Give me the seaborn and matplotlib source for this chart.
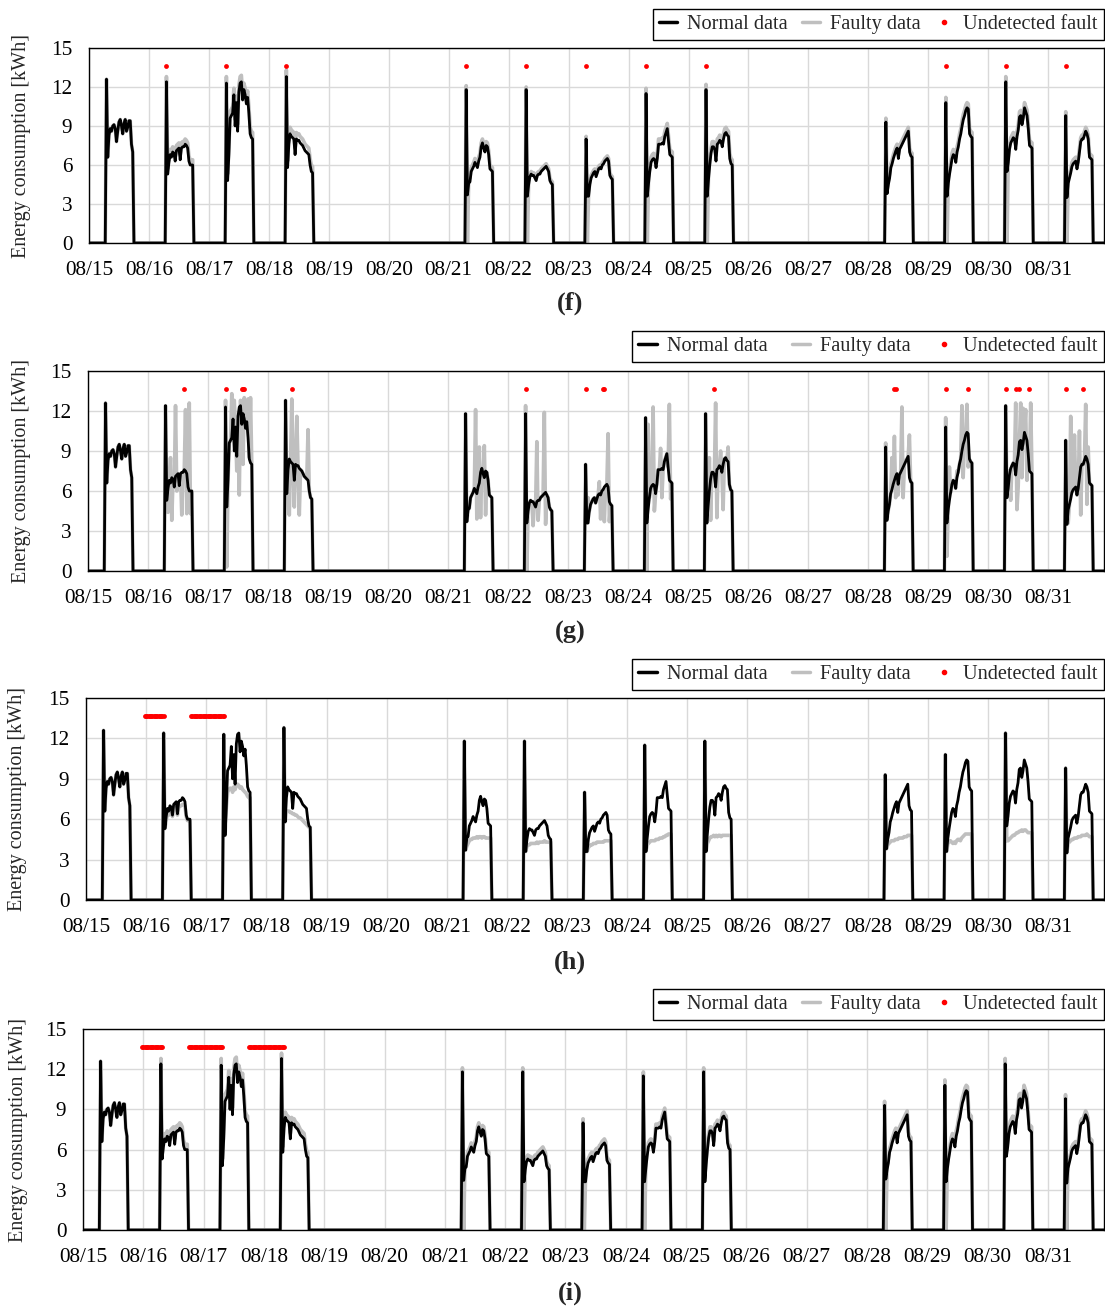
import numpy as np
import pandas as pd
import matplotlib
matplotlib.use("Agg")
import matplotlib.pyplot as plt
import seaborn as sns
from matplotlib.lines import Line2D

# ---------------- data ----------------
date_labels = ['08/15', '08/16', '08/17', '08/18', '08/19', '08/20', '08/21', '08/22',
               '08/23', '08/24', '08/25', '08/26', '08/27', '08/28', '08/29', '08/30', '08/31']
y_ticks = [0, 3, 6, 9, 12, 15]

# normal half-hour profiles, 07:00 .. 17:30, kWh
normal_0815 = [12.6, 6.6, 8.3, 8.8, 8.6, 9.0, 9.1, 8.8, 7.8, 8.6, 9.3, 9.5, 9.0, 8.4, 9.2, 9.5, 8.6, 8.9, 9.4, 9.4, 7.6, 7.0]
normal_0816 = [12.4, 5.3, 6.2, 6.8, 6.6, 7.0, 6.9, 6.3, 7.1, 7.2, 7.3, 6.4, 7.3, 7.4, 7.4, 7.6, 7.5, 7.3, 6.3, 6.0, 6.0, 6.0]
normal_0817 = [12.3, 4.8, 6.8, 9.6, 9.8, 10.0, 11.4, 9.0, 10.8, 8.6, 11.6, 12.3, 12.4, 11.0, 11.8, 11.4, 10.7, 11.2, 10.0, 8.4, 8.1, 8.0]
normal_0818 = [12.8, 5.8, 7.6, 8.4, 8.2, 8.1, 8.0, 6.8, 8.0, 7.9, 7.9, 7.7, 7.6, 7.5, 7.3, 7.1, 7.0, 6.9, 6.8, 6.0, 5.5, 5.4]
normal_0821 = [11.8, 3.7, 4.6, 4.7, 5.5, 5.7, 5.9, 6.2, 6.0, 5.8, 6.3, 6.6, 7.4, 7.7, 7.3, 7.0, 7.5, 7.4, 6.8, 5.7, 5.6, 5.5]
normal_0822 = [11.8, 3.6, 4.5, 5.1, 5.3, 5.2, 5.2, 5.0, 4.8, 5.2, 5.3, 5.3, 5.5, 5.6, 5.7, 5.8, 5.9, 5.7, 5.5, 4.8, 4.6, 4.5]
normal_0823 = [8.0, 3.6, 3.6, 4.5, 5.0, 5.2, 5.4, 5.5, 5.1, 5.4, 5.7, 5.8, 5.7, 6.0, 6.1, 6.3, 6.4, 6.5, 6.3, 5.2, 5.0, 4.9]
normal_0824 = [11.5, 3.6, 4.6, 5.5, 6.2, 6.4, 6.5, 6.4, 5.8, 6.5, 7.6, 7.6, 7.6, 7.7, 7.6, 8.2, 8.5, 8.8, 7.8, 6.8, 6.7, 6.6]
normal_0825 = [11.8, 3.6, 4.9, 6.0, 6.9, 7.4, 7.4, 7.2, 6.3, 7.6, 7.7, 7.9, 7.8, 7.4, 8.0, 8.4, 8.5, 8.3, 8.2, 6.5, 6.1, 6.0]
normal_0828 = [9.3, 3.8, 4.5, 5.0, 5.8, 6.1, 6.5, 6.8, 7.1, 7.3, 6.5, 7.2, 7.4, 7.6, 7.8, 8.0, 8.2, 8.4, 8.6, 7.0, 6.7, 6.6]
normal_0829 = [10.8, 3.6, 4.6, 5.3, 5.9, 6.5, 6.8, 6.7, 6.2, 7.0, 7.4, 8.0, 8.4, 9.0, 9.5, 9.8, 10.2, 10.4, 10.3, 8.4, 8.2, 8.1]
normal_0830 = [12.4, 5.5, 6.2, 7.2, 7.7, 7.9, 8.1, 8.0, 7.2, 8.2, 8.7, 9.7, 9.8, 9.1, 9.6, 10.4, 10.1, 9.8, 8.8, 7.5, 7.4, 7.3]
normal_0831 = [9.8, 3.5, 4.6, 5.0, 5.4, 5.9, 6.1, 6.2, 6.3, 5.7, 6.2, 7.0, 7.8, 8.0, 8.0, 8.3, 8.6, 8.4, 8.0, 6.6, 6.5, 6.4]

work_days = ['08/15', '08/16', '08/17', '08/18', '08/21', '08/22', '08/23',
             '08/24', '08/25', '08/28', '08/29', '08/30', '08/31']
normal_profiles = [normal_0815, normal_0816, normal_0817, normal_0818, normal_0821, normal_0822,
                   normal_0823, normal_0824, normal_0825, normal_0828, normal_0829, normal_0830, normal_0831]

# (f) faulty data: per-day offset above normal, days where faulty drops to 0 after start
f_offset = [0.0, 0.4, 0.5, 0.5, 0.3, 0.2, 0.2, 0.4, 0.4, 0.3, 0.4, 0.4, 0.3]
f_dip_days = ['08/21', '08/22', '08/23', '08/24', '08/25', '08/29', '08/30', '08/31']
f_fault_days = ['08/16', '08/17', '08/18', '08/21', '08/22', '08/23', '08/24', '08/25',
                '08/29', '08/30', '08/31']

# (g) faulty data: outlier spikes (day, half-hour slot, value)
g_spikes = [
    ('08/16', 1, 4.5), ('08/16', 2, 4.4), ('08/16', 4, 8.5), ('08/16', 5, 3.8), ('08/16', 8, 12.4),
    ('08/16', 9, 6.0), ('08/16', 13, 4.2), ('08/16', 16, 12.1), ('08/16', 17, 4.3), ('08/16', 19, 12.6),
    ('08/16', 20, 4.3),
    ('08/17', 0, 12.8), ('08/17', 1, 0.3), ('08/17', 5, 13.3), ('08/17', 7, 12.8), ('08/17', 9, 7.5),
    ('08/17', 11, 5.7), ('08/17', 12, 12.8), ('08/17', 14, 8.0), ('08/17', 15, 13.0), ('08/17', 18, 12.9),
    ('08/17', 19, 8.5), ('08/17', 20, 13.0),
    ('08/18', 3, 4.2), ('08/18', 5, 12.9), ('08/18', 7, 4.8), ('08/18', 9, 11.6), ('08/18', 11, 4.2),
    ('08/18', 18, 10.6),
    ('08/21', 8, 12.1), ('08/21', 9, 3.9), ('08/21', 11, 9.3), ('08/21', 12, 4.0), ('08/21', 15, 9.4),
    ('08/21', 16, 4.2),
    ('08/22', 0, 12.4), ('08/22', 1, 0.0), ('08/22', 6, 3.4), ('08/22', 9, 9.7), ('08/22', 10, 3.8),
    ('08/22', 15, 11.9), ('08/22', 16, 3.5),
    ('08/23', 2, 5.5), ('08/23', 11, 6.7), ('08/23', 12, 3.9), ('08/23', 15, 3.7), ('08/23', 18, 10.3),
    ('08/23', 19, 3.7),
    ('08/24', 1, 0.0), ('08/24', 2, 11.0), ('08/24', 6, 12.3), ('08/24', 7, 4.5), ('08/24', 12, 9.2),
    ('08/24', 13, 5.5), ('08/24', 19, 12.5), ('08/24', 20, 5.4),
    ('08/25', 3, 8.5), ('08/25', 4, 3.8), ('08/25', 8, 12.6), ('08/25', 9, 4.0), ('08/25', 12, 9.0),
    ('08/25', 14, 4.6), ('08/25', 18, 9.3),
    ('08/28', 0, 9.6), ('08/28', 5, 8.5), ('08/28', 7, 10.1), ('08/28', 8, 5.5), ('08/28', 10, 5.7),
    ('08/28', 13, 12.3), ('08/28', 14, 5.5), ('08/28', 16, 8.3), ('08/28', 19, 10.2),
    ('08/29', 0, 11.5), ('08/29', 1, 1.1), ('08/29', 3, 7.8), ('08/29', 9, 7.5), ('08/29', 13, 12.4),
    ('08/29', 14, 7.0), ('08/29', 17, 12.5), ('08/29', 18, 7.8),
    ('08/30', 2, 7.5), ('08/30', 4, 5.3), ('08/30', 8, 12.6), ('08/30', 9, 4.6), ('08/30', 10, 6.3),
    ('08/30', 12, 12.6), ('08/30', 13, 7.0), ('08/30', 14, 12.2), ('08/30', 16, 12.1), ('08/30', 17, 6.8),
    ('08/30', 20, 12.6), ('08/30', 21, 7.5),
    ('08/31', 2, 3.6), ('08/31', 4, 11.6), ('08/31', 7, 10.2), ('08/31', 11, 10.5), ('08/31', 12, 4.2),
    ('08/31', 16, 12.5), ('08/31', 17, 5.0), ('08/31', 18, 9.3),
]
g_fault_points = [('08/16', 15), ('08/17', 0), ('08/17', 13), ('08/17', 14), ('08/17', 15), ('08/18', 5),
                  ('08/22', 0), ('08/23', 0), ('08/23', 14), ('08/23', 15), ('08/25', 7), ('08/28', 7),
                  ('08/28', 8), ('08/29', 0), ('08/29', 18), ('08/30', 0), ('08/30', 8), ('08/30', 11),
                  ('08/30', 19), ('08/31', 0), ('08/31', 14)]

# (h) faulty data: explicit profiles where they differ from normal
h_faulty_0816 = [12.4, 5.3, 5.9, 6.4, 6.3, 6.6, 6.6, 6.2, 6.7, 6.8, 6.9, 6.3, 6.9, 7.0, 7.0, 7.1, 7.1, 7.0, 6.2, 5.9, 5.9, 5.9]
h_faulty_0817 = [12.3, 4.8, 6.8, 8.0, 8.2, 8.3, 8.3, 8.0, 8.4, 8.2, 8.5, 8.6, 8.5, 8.3, 8.4, 8.2, 8.1, 8.0, 7.9, 7.7, 7.6, 7.6]
h_faulty_0818 = [12.8, 5.8, 6.6, 6.6, 6.6, 6.5, 6.5, 6.4, 6.4, 6.3, 6.3, 6.2, 6.1, 6.1, 6.0, 5.9, 5.8, 5.7, 5.6, 5.5, 5.4, 5.4]
h_faulty_0821 = [11.8, 3.7, 4.0, 4.2, 4.4, 4.5, 4.5, 4.6, 4.6, 4.6, 4.7, 4.6, 4.7, 4.7, 4.6, 4.7, 4.7, 4.6, 4.6, 4.6, 4.6, 4.6]
h_faulty_0822 = [11.8, 3.6, 4.0, 4.1, 4.1, 4.2, 4.2, 4.2, 4.2, 4.2, 4.3, 4.2, 4.3, 4.3, 4.3, 4.3, 4.4, 4.3, 4.3, 4.3, 4.3, 4.3]
h_faulty_0823 = [8.0, 3.6, 3.6, 3.9, 4.0, 4.1, 4.1, 4.2, 4.2, 4.2, 4.3, 4.3, 4.3, 4.3, 4.3, 4.3, 4.4, 4.4, 4.4, 4.4, 4.4, 4.4]
h_faulty_0824 = [11.5, 3.6, 4.1, 4.2, 4.3, 4.4, 4.4, 4.4, 4.4, 4.5, 4.5, 4.5, 4.6, 4.6, 4.6, 4.7, 4.7, 4.8, 4.8, 4.9, 4.9, 4.9]
h_faulty_0825 = [11.8, 3.6, 4.2, 4.4, 4.6, 4.7, 4.7, 4.8, 4.7, 4.8, 4.7, 4.8, 4.8, 4.7, 4.8, 4.8, 4.8, 4.8, 4.8, 4.8, 4.8, 4.8]
h_faulty_0828 = [9.3, 3.8, 4.1, 4.2, 4.3, 4.4, 4.4, 4.4, 4.5, 4.5, 4.5, 4.6, 4.6, 4.6, 4.6, 4.7, 4.7, 4.7, 4.8, 4.8, 4.8, 4.8]
h_faulty_0829 = [10.8, 3.6, 4.2, 4.3, 4.4, 4.3, 4.2, 4.3, 4.2, 4.4, 4.5, 4.5, 4.4, 4.6, 4.7, 4.8, 4.9, 4.9, 4.9, 4.9, 4.9, 4.9]
h_faulty_0830 = [12.4, 4.4, 4.4, 4.5, 4.6, 4.7, 4.8, 4.8, 4.9, 5.0, 5.0, 5.1, 5.1, 5.2, 5.1, 5.2, 5.2, 5.1, 5.0, 5.0, 5.0, 5.0]
h_faulty_0831 = [9.8, 3.5, 4.2, 4.3, 4.4, 4.5, 4.5, 4.6, 4.6, 4.6, 4.7, 4.7, 4.7, 4.8, 4.8, 4.8, 4.8, 4.9, 4.8, 4.7, 4.7, 4.7]
h_faulty_profiles = [normal_0815, h_faulty_0816, h_faulty_0817, h_faulty_0818, h_faulty_0821, h_faulty_0822,
                     h_faulty_0823, h_faulty_0824, h_faulty_0825, h_faulty_0828, h_faulty_0829,
                     h_faulty_0830, h_faulty_0831]
h_fault_spans = [(0.97, 1.30), (1.73, 2.30)]

# (i) faulty data
i_offset = [0.0, 0.4, 0.5, 0.4, 0.3, 0.3, 0.3, 0.3, 0.3, 0.3, 0.4, 0.4, 0.3]
i_dip_days = ['08/21', '08/22', '08/23', '08/24', '08/28', '08/29', '08/31']
i_fault_spans = [(0.97, 1.32), (1.73, 2.32), (2.74, 3.34)]

# ---------------- helpers ----------------
SPD = 48          # half-hour samples per day
START = 14        # 07:00
n_days = len(date_labels)
t = np.arange(n_days * SPD) / SPD


def build(profiles):
    y = np.zeros(len(t))
    for day, prof in zip(work_days, profiles):
        i0 = date_labels.index(day) * SPD + START
        y[i0:i0 + len(prof)] = prof
    return y


def slot_time(day, slot):
    return date_labels.index(day) + (START + slot) / SPD


normal = build(normal_profiles)


def offset_faulty(offsets, dip_days):
    profs = []
    for day, prof, off in zip(work_days, normal_profiles, offsets):
        p = [v + off for v in prof]
        if day in dip_days:
            p[1] = 0.0
        profs.append(p)
    return build(profs)


faulty_f = offset_faulty(f_offset, f_dip_days)
faulty_g = normal.copy()
for day, slot, val in g_spikes:
    faulty_g[date_labels.index(day) * SPD + START + slot] = val
faulty_h = build(h_faulty_profiles)
faulty_i = offset_faulty(i_offset, i_dip_days)

fault_f_x = [slot_time(d, 0) for d in f_fault_days]
fault_g_x = [slot_time(d, s) for d, s in g_fault_points]


def span_times(spans):
    xs = []
    for a, b in spans:
        xs.extend(t[(t >= a) & (t <= b)].tolist())
    return xs


fault_h_x = span_times(h_fault_spans)
fault_i_x = span_times(i_fault_spans)

# ---------------- style ----------------
sns.set_theme(style="whitegrid")
plt.rcParams['font.family'] = ['Liberation Serif', 'DejaVu Serif']
plt.rcParams['axes.edgecolor'] = 'black'
plt.rcParams['axes.linewidth'] = 1.0
plt.rcParams['grid.color'] = '#D9D9D9'
plt.rcParams['grid.linewidth'] = 1.0

W, H = 1105, 1307
fig = plt.figure(figsize=(W / 100, H / 100), dpi=100)
fig.patch.set_facecolor('white')

panels = [
    # left, top, bottom px, faulty, fault x, letter, letter y, legend bottom px, colspacing, ylabel x
    (89, 48, 243, faulty_f, fault_f_x, '(f)', 303, 40, 0.7, 22),
    (88, 371, 571, faulty_g, fault_g_x, '(g)', 632, 362, 1.2, 22),
    (86, 698, 900, faulty_h, fault_h_x, '(h)', 962, 690, 1.2, 18),
    (83, 1029, 1230, faulty_i, fault_i_x, '(i)', 1293, 1020, 0.7, 19),
]

BLACK = '#000000'
GREY = '#BFBFBF'
RED = '#FF0000'
MARK_Y = 13.65

for left, top, bottom, faulty, fx, letter, ly, lb, colsp, ylx in panels:
    ax = fig.add_axes([left / W, 1 - bottom / H, (1104 - left) / W, (bottom - top) / H])
    df = pd.DataFrame({'t': t, 'normal': normal, 'faulty': faulty})
    sns.lineplot(data=df, x='t', y='faulty', color=GREY, lw=2.6, ax=ax,
                 estimator=None, sort=False, legend=False)
    sns.lineplot(data=df, x='t', y='normal', color=BLACK, lw=2.0, ax=ax,
                 estimator=None, sort=False, legend=False)
    dmark = pd.DataFrame({'t': fx, 'y': [MARK_Y] * len(fx)})
    sns.scatterplot(data=dmark, x='t', y='y', color=RED, s=12, linewidth=0, ax=ax,
                    legend=False, zorder=5)

    ax.set_xlim(0, 16.93)
    ax.set_ylim(0, 15)
    ax.set_xticks(range(n_days))
    ax.set_xticklabels(date_labels)
    ax.set_yticks(y_ticks)
    ax.set_xlabel('')
    ax.set_ylabel('')
    ax.tick_params(axis='both', length=0, labelsize=15.3, colors='black')
    ax.tick_params(axis='x', pad=13)
    ax.tick_params(axis='y', pad=12)
    ax.grid(True, color='#D9D9D9', lw=1.0)
    ax.set_axisbelow(True)
    for sp in ax.spines.values():
        sp.set_color('black')
        sp.set_linewidth(1.0)
        sp.set_visible(True)

    handles = [Line2D([], [], color=BLACK, lw=2.5),
               Line2D([], [], color=GREY, lw=2.5),
               Line2D([], [], color=RED, lw=0, marker='o', markersize=3)]
    leg = ax.legend(handles, ['Normal data', 'Faulty data', 'Undetected fault'],
                    ncol=3, loc='lower right', bbox_to_anchor=(1104 / W, 1 - lb / H),
                    bbox_transform=fig.transFigure,
                    borderaxespad=0, fontsize=14.6, frameon=True, fancybox=False,
                    edgecolor='black', framealpha=1, handlelength=0.9,
                    handletextpad=0.5, columnspacing=colsp, borderpad=0.3)
    leg.get_frame().set_linewidth(1.0)

    fig.text(ylx / W, 1 - (top + bottom) / 2 / H, 'Energy consumption [kWh]', rotation=90,
             ha='center', va='center', fontsize=14.5)
    fig.text(570 / W, 1 - ly / H, letter, ha='center', va='center', fontsize=19,
             fontweight='bold')

fig.savefig('out.png', dpi=100, facecolor='white')
